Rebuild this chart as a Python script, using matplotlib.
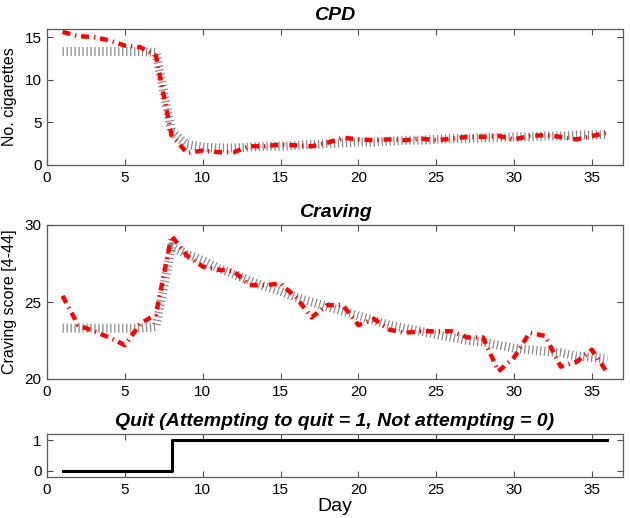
import numpy as np
import matplotlib
matplotlib.use('Agg')
from matplotlib import pyplot as plt

plt.rcParams['font.family'] = ['Liberation Sans', 'DejaVu Sans']

days = np.arange(1, 37)

# cigarettes per day: observed (red) and fitted (gray)
cpd_obs = [15.6, 15.1, 15.0, 14.6, 14.0, 13.8, 12.8, 3.5, 1.4, 1.7, 1.5, 1.5,
           2.2, 2.2, 2.4, 2.3, 2.2, 2.6, 3.2, 3.0, 2.9, 3.0, 2.9, 3.1,
           2.9, 3.1, 3.3, 3.3, 3.4, 3.0, 3.4, 3.5, 3.3, 3.0, 3.4, 3.8]
cpd_fit = [13.3, 13.3, 13.3, 13.3, 13.3, 13.3, 13.2, 3.9, 2.4, 2.1, 2.0, 2.0,
           2.1, 2.2, 2.2, 2.3, 2.4, 2.5, 2.6, 2.7, 2.7, 2.8, 2.9, 2.9,
           3.0, 3.1, 3.1, 3.2, 3.2, 3.3, 3.3, 3.4, 3.4, 3.5, 3.5, 3.6]

# craving score: observed (red) and fitted (gray)
crav_obs = [25.4, 23.5, 23.1, 22.7, 22.2, 23.6, 24.2, 29.3, 28.0, 27.3, 27.1, 27.0,
            26.1, 26.1, 26.2, 25.3, 24.0, 24.8, 24.8, 23.5, 23.9, 23.2, 23.0, 23.1,
            23.1, 23.1, 22.7, 22.7, 20.5, 21.4, 23.0, 22.8, 20.8, 21.1, 21.9, 20.4]
crav_fit = [23.3, 23.3, 23.3, 23.3, 23.3, 23.3, 23.4, 28.6, 28.1, 27.7, 27.2, 26.8,
            26.4, 26.0, 25.7, 25.3, 25.0, 24.7, 24.4, 24.1, 23.8, 23.5, 23.3, 23.1,
            22.9, 22.7, 22.5, 22.4, 22.2, 22.0, 21.9, 21.8, 21.7, 21.5, 21.4, 21.3]

# quit attempt indicator
quit_flag = [0] * 7 + [1] * 29

W, H = 630.0, 518.0
fig = plt.figure(figsize=(W / 100, H / 100), dpi=100)

def box(left, top, right, bottom):
    return [left / W, 1 - bottom / H, (right - left) / W, (bottom - top) / H]

ax1 = fig.add_axes(box(47, 28.5, 623, 165))
ax2 = fig.add_axes(box(47, 225, 623, 379))
ax3 = fig.add_axes(box(47, 434, 623, 477))

red_style = dict(color='red', lw=3.2, linestyle=(0, (1.8, 1.1, 0.3, 1.1)), zorder=3)
gray_style = dict(color='0.55', lw=6.5, linestyle=(0, (0.14, 0.3)),
                  dash_capstyle='butt', zorder=2)
title_kw = dict(fontweight='bold', style='italic', pad=6)

ax1.plot(days, cpd_fit, **gray_style)
ax1.plot(days, cpd_obs, **red_style)
ax1.set_ylim(0, 16)
ax1.set_yticks([0, 5, 10, 15])
ax1.set_ylabel('No. cigarettes', fontsize=11.5, labelpad=5)
ax1.set_title('CPD', fontsize=14, **title_kw)

ax2.plot(days, crav_fit, **gray_style)
ax2.plot(days, crav_obs, **red_style)
ax2.set_ylim(20, 30)
ax2.set_yticks([20, 25, 30])
ax2.set_ylabel('Craving score [4-44]', fontsize=11.5, labelpad=5)
ax2.set_title('Craving', fontsize=14, **title_kw)

ax3.plot(days, quit_flag, color='black', lw=2.2, drawstyle='steps-post')
ax3.set_ylim(-0.2, 1.2)
ax3.set_yticks([0, 1])
ax3.set_xlabel('Day', fontsize=14, labelpad=1)
ax3.set_title('Quit (Attempting to quit = 1, Not attempting = 0)',
              fontsize=14, **title_kw)

for ax in (ax1, ax2, ax3):
    ax.set_xlim(0, 37)
    ax.set_xticks(np.arange(0, 36, 5))
    ax.tick_params(direction='in', top=True, right=True, length=4,
                   labelsize=11, color='0.3', pad=4)
    for s in ax.spines.values():
        s.set_color('0.35')
        s.set_linewidth(0.9)

fig.savefig('out.png', dpi=100)
